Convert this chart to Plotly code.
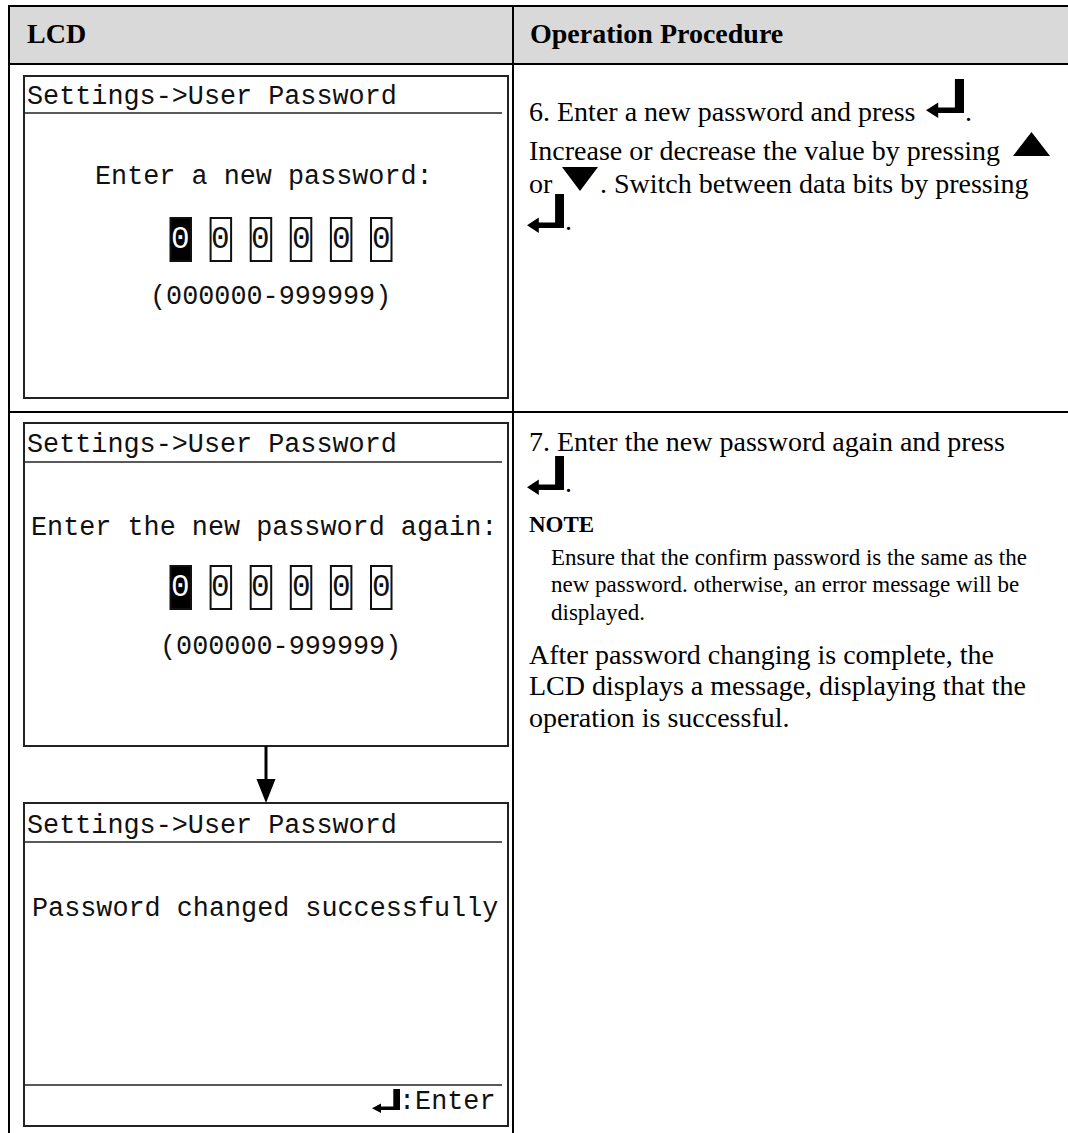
import plotly.graph_objects as go

# ---------------- content ----------------
header_labels = ["LCD", "Operation Procedure"]
lcd_title = "Settings->User Password"
lcd_prompts = ["Enter a new password:", "Enter the new password again:"]
pwd_digits = ["0", "0", "0", "0", "0", "0"]
selected_digit = 0
pwd_range = "(000000-999999)"
success_msg = "Password changed successfully"
footer_hint = ":Enter"

step6_line1 = "6. Enter a new password and press"
step6_line2 = "Increase or decrease the value by pressing"
step6_line3a = "or"
step6_line3b = ". Switch between data bits by pressing"
step7_line1 = "7. Enter the new password again and press"
note_label = "NOTE"
note_lines = ["Ensure that the confirm password is the same as the",
              "new password. otherwise, an error message will be",
              "displayed."]
after_lines = ["After password changing is complete, the",
               "LCD displays a message, displaying that the",
               "operation is successful."]

# ---------------- layout constants ----------------
W, H = 1068, 1133
TL, TT, HB, CX, RY = 9, 6, 64, 513, 412
BX0, BX1 = 24, 508
SERIF = "Liberation Serif"
MONO = "Liberation Mono"
MS = 26.8

fig = go.Figure()
shapes = []
ann = []


def line(x0, y0, x1, y1, w=2, c="#000"):
    shapes.append(dict(type="line", x0=x0, y0=y0, x1=x1, y1=y1,
                       line=dict(color=c, width=w), xref="x", yref="y"))


def rect(x0, y0, x1, y1, w=2, c="#222", fill=None):
    d = dict(type="rect", x0=x0, y0=y0, x1=x1, y1=y1, xref="x", yref="y",
             line=dict(color=c, width=w))
    if fill:
        d["fillcolor"] = fill
    shapes.append(d)


def path(pts, fill="#000"):
    p = "M " + " L ".join(f"{x:.1f},{y:.1f}" for x, y in pts) + " Z"
    shapes.append(dict(type="path", path=p, xref="x", yref="y",
                       fillcolor=fill, line=dict(width=0)))


def enter_icon(x0, y0, w, h):
    bw = 0.24 * w
    t = 0.16 * h
    ah = 0.46 * h
    aw = 0.32 * w
    xr, yb = x0 + w, y0 + h
    yc = yb - t / 2
    path([(xr - bw, y0), (xr, y0), (xr, yb), (x0 + aw, yb),
          (x0 + aw, yc + ah / 2), (x0, yc), (x0 + aw, yc - ah / 2),
          (x0 + aw, yb - t), (xr - bw, yb - t)])


def text(x, y, s, size, family=SERIF, xa="left", bold=False, color="#000"):
    ann.append(dict(x=x, y=y, text=s, showarrow=False, xanchor=xa,
                    yanchor="middle", xref="x", yref="y",
                    font=dict(family=family, size=size, color=color,
                              weight="bold" if bold else "normal")))


# ---------------- table ----------------
rect(TL, TT, W + 20, HB, w=0, c="#d9d9d9", fill="#d9d9d9")
line(TL, TT, W + 20, TT)
line(TL, HB, W + 20, HB)
line(TL, RY, W + 20, RY)
line(TL, TT - 1, TL, H + 20)
line(CX, TT, CX, H + 20)
text(25, 33, header_labels[0], 28, bold=True)
text(528, 33, header_labels[1], 28, bold=True)


# ---------------- LCD screens ----------------
def lcd_entry(top, bottom, ul, title_y, prompt, prompt_y, by0, by1, rng_x, rng_y):
    rect(BX0, top, BX1, bottom)
    line(BX0, ul, 502, ul, w=1.5, c="#222")
    text(25, title_y, lcd_title, MS, family=MONO, color="#111")
    text(264, prompt_y, prompt, MS, family=MONO, xa="center", color="#111")
    for i, d in enumerate(pwd_digits):
        x0 = 170.5 + 40.1 * i
        sel = i == selected_digit
        rect(x0, by0, x0 + 20.5, by1, w=2, c="#111", fill="#000" if sel else None)
        text(x0 + 10.25, (by0 + by1) / 2, d, 31, family=MONO, xa="center",
             color="#fff" if sel else "#111")
    text(rng_x, rng_y, pwd_range, MS, family=MONO, xa="center", color="#111")


lcd_entry(76, 398, 113, 97, lcd_prompts[0], 177, 218, 261, 270, 297)
lcd_entry(423, 746, 462, 445, lcd_prompts[1], 528, 566, 609, 280, 647)

# arrow between screens
line(266, 746, 266, 782, w=3, c="#000")
path([(256.5, 779), (275.5, 779), (266, 803)])

# success screen
rect(BX0, 803, BX1, 1126)
line(BX0, 842, 502, 842, w=1.5, c="#222")
line(BX0, 1085, 502, 1085, w=1.5, c="#222")
text(25, 826, lcd_title, MS, family=MONO, color="#111")
text(265, 909, success_msg, MS, family=MONO, xa="center", color="#111")
text(498, 1102, footer_hint, MS, family=MONO, xa="right", color="#111")
enter_icon(372, 1089, 28, 21)

# ---------------- right column: step 6 ----------------
text(527, 111, step6_line1, 28)
enter_icon(926, 79, 38, 34)
text(963, 111, ".", 28)
text(527, 150, step6_line2, 28)
path([(1013, 156), (1050, 156), (1031.5, 132)])
text(527, 183, step6_line3a, 28)
path([(562, 167), (598, 167), (580, 191)])
text(598, 183, step6_line3b, 28)
enter_icon(527, 194, 37, 34)
text(563, 220, ".", 28)

# ---------------- right column: step 7 ----------------
text(527, 441, step7_line1, 28)
enter_icon(527, 456, 37, 34)
text(563, 482, ".", 28)
text(527, 524, note_label, 23, bold=True)
for k, s in enumerate(note_lines):
    text(549, 557 + 27.5 * k, s, 23)
for k, s in enumerate(after_lines):
    text(527, 654 + 31.5 * k, s, 28)

fig.update_layout(
    width=W, height=H, margin=dict(l=0, r=0, t=0, b=0),
    paper_bgcolor="#fff", plot_bgcolor="#fff",
    xaxis=dict(range=[0, W], visible=False, fixedrange=True),
    yaxis=dict(range=[H, 0], visible=False, fixedrange=True),
    shapes=shapes, annotations=ann, showlegend=False,
)
fig.write_html(
    "out.html",
    config={"displayModeBar": False},
    post_script="document.body.style.margin='0px';document.body.style.overflow='hidden';",
)
